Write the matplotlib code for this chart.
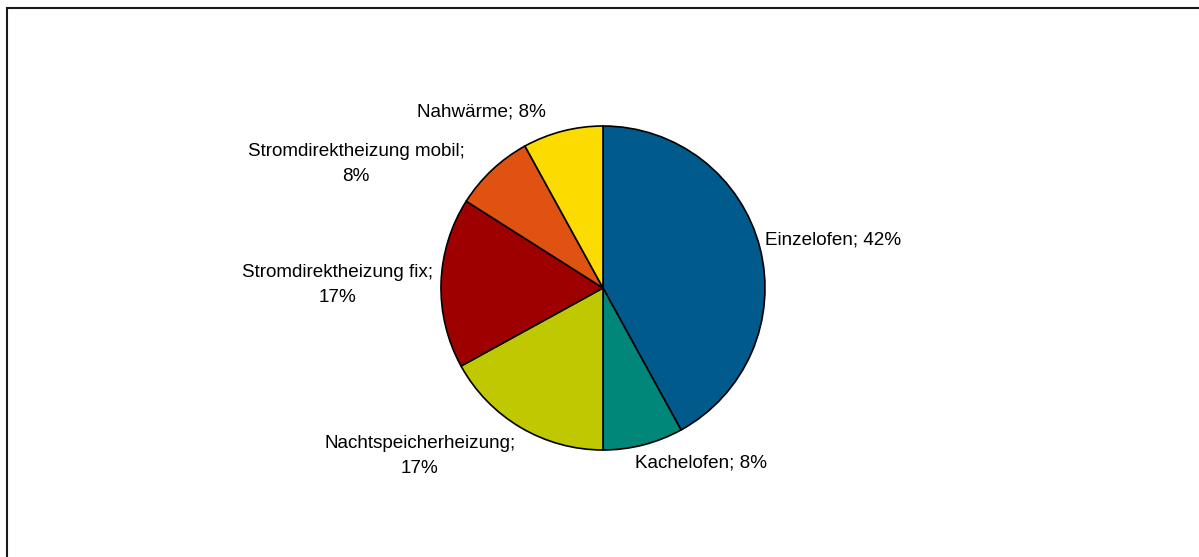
import matplotlib.pyplot as plt
from matplotlib.patches import Rectangle

plt.rcParams['font.family'] = ['Liberation Sans', 'DejaVu Sans']

categories = ['Einzelofen', 'Kachelofen', 'Nachtspeicherheizung',
              'Stromdirektheizung fix', 'Stromdirektheizung mobil', 'Nahwärme']
shares = [42, 8, 17, 17, 8, 8]
colors = ['#005a8c', '#00877a', '#bfc800', '#9e0000', '#e05212', '#fcdb00']

# label text layout: (x, y, ha) in pixel coords, y measured from top
label_pos = [(765, 240, 'left'), (701, 463, 'center'), (420, 456, 'center'),
             (338, 285, 'center'), (356, 164, 'center'), (481, 112, 'center')]
two_line = [False, False, True, True, True, False]

W, H = 1199, 557
fig = plt.figure(figsize=(W / 100, H / 100), dpi=100)
ax = fig.add_axes([0, 0, 1, 1])

ax.pie(shares, colors=colors, startangle=90, counterclock=False,
       center=(603, H - 288), radius=162, frame=True,
       wedgeprops=dict(edgecolor='black', linewidth=1.2))
ax.set_xlim(0, W)
ax.set_ylim(0, H)
ax.set_aspect('equal')
ax.axis('off')

for name, val, (x, y, ha), split in zip(categories, shares, label_pos, two_line):
    txt = f'{name};\n{val}%' if split else f'{name}; {val}%'
    ax.text(x, H - y, txt, ha=ha, va='center', fontsize=13.6,
            linespacing=1.55, color='black')

# outer chart border
fig.patches.append(Rectangle((7 / W, -0.05), 1.1, (H - 8) / H + 0.05,
                             transform=fig.transFigure, fill=False,
                             edgecolor='#1a1a1a', linewidth=1.5))

fig.savefig('out.png', dpi=100, facecolor='white')
